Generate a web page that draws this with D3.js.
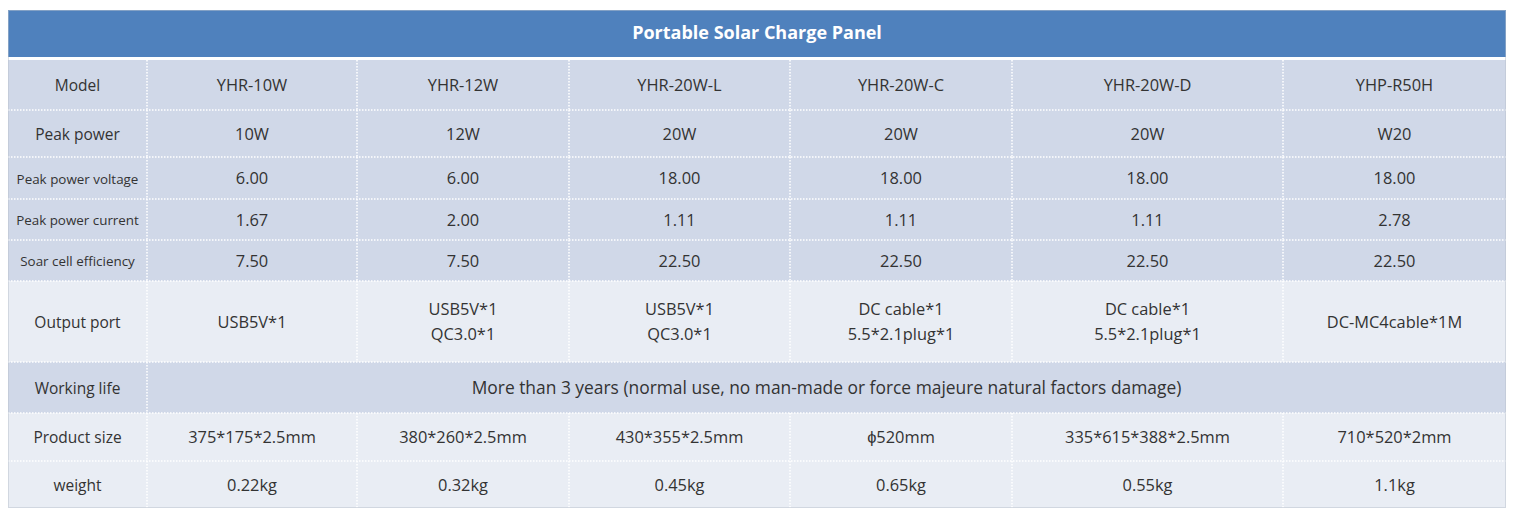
<!DOCTYPE html>
<html><head><meta charset="utf-8">
<script src="https://cdn.jsdelivr.net/npm/d3@7"></script>
<style>
html,body{margin:0;padding:0;background:#fff;}
svg{display:block;font-family:"Open Sans",sans-serif;}
</style></head><body>
<svg id="chart" width="1514" height="521"></svg>
<script>
const title = "Portable Solar Charge Panel";
const rowLabels = ["Model","Peak power","Peak power voltage","Peak power current","Soar cell efficiency","Output port","Working life","Product size","weight"];
const models = ["YHR-10W","YHR-12W","YHR-20W-L","YHR-20W-C","YHR-20W-D","YHP-R50H"];
const peakPower = ["10W","12W","20W","20W","20W","W20"];
const voltage = ["6.00","6.00","18.00","18.00","18.00","18.00"];
const current = ["1.67","2.00","1.11","1.11","1.11","2.78"];
const efficiency = ["7.50","7.50","22.50","22.50","22.50","22.50"];
const outputPort = [["USB5V*1"],["USB5V*1","QC3.0*1"],["USB5V*1","QC3.0*1"],["DC cable*1","5.5*2.1plug*1"],["DC cable*1","5.5*2.1plug*1"],["DC-MC4cable*1M"]];
const workingLife = "More than 3 years (normal use, no man-made or force majeure natural factors damage)";
const productSize = ["375*175*2.5mm","380*260*2.5mm","430*355*2.5mm","ϕ520mm","335*615*388*2.5mm","710*520*2mm"];
const weight = ["0.22kg","0.32kg","0.45kg","0.65kg","0.55kg","1.1kg"];

// layout
const colEdges = [8,147,357,569,790,1012,1283,1506];
const rowEdges = [60,110,157,199,240,281,362,413,461,508];
const titleTop = 10, titleBottom = 57;
const dark = "#d0d8e8", light = "#e9edf4";
const rowFill = [dark,dark,dark,dark,dark,light,dark,light,light];
const labelSize = [15.5,15.5,13.4,13.4,13.4,15.5,15.5,15.5,15.5];
const valueSize = 16.4, lifeSize = 17.4, dy = 2;

const svg = d3.select("#chart");
const x = i => colEdges[i];
const y = i => rowEdges[i];

svg.append("rect").attr("x",colEdges[0]).attr("y",titleTop).attr("width",colEdges[7]-colEdges[0]).attr("height",titleBottom-titleTop).attr("fill","#4f81bd");
svg.append("text").attr("x",(colEdges[0]+colEdges[7])/2).attr("y",(titleTop+titleBottom)/2+1)
  .attr("text-anchor","middle").attr("dominant-baseline","middle")
  .attr("fill","#fff").attr("font-weight","bold").attr("font-size",18).text(title);

const rows = [models, peakPower, voltage, current, efficiency, outputPort, null, productSize, weight];

rows.forEach((vals, r) => {
  const y0 = y(r), y1 = y(r+1);
  svg.append("rect").attr("x",colEdges[0]).attr("y",y0).attr("width",colEdges[7]-colEdges[0]).attr("height",y1-y0).attr("fill",rowFill[r]);
  const cy = (y0+y1)/2 + dy;
  svg.append("text").attr("x",(x(0)+x(1))/2).attr("y",cy).attr("text-anchor","middle").attr("dominant-baseline","middle")
    .attr("fill","#333").attr("font-size",labelSize[r]).text(rowLabels[r]);
  if (vals === null) {
    svg.append("text").attr("x",(x(1)+x(7))/2).attr("y",cy).attr("text-anchor","middle").attr("dominant-baseline","middle")
      .attr("fill","#333").attr("font-size",lifeSize).text(workingLife);
    return;
  }
  vals.forEach((v, c) => {
    const cx = (x(c+1)+x(c+2))/2;
    const lines = Array.isArray(v) ? v : [v];
    lines.forEach((ln, k) => {
      svg.append("text").attr("x",cx).attr("y",cy + (k-(lines.length-1)/2)*25)
        .attr("text-anchor","middle").attr("dominant-baseline","middle")
        .attr("fill","#333").attr("font-size",valueSize).text(ln);
    });
  });
});

const g = svg.append("g").attr("stroke","#fff").attr("stroke-width",1.5).attr("stroke-dasharray","1.5,1.5");
rowEdges.slice(1,-1).forEach(yy => g.append("line").attr("x1",colEdges[0]).attr("x2",colEdges[7]).attr("y1",yy).attr("y2",yy));
colEdges.slice(1,-1).forEach(xx => {
  for (let r = 0; r < rows.length; r++) {
    if (rows[r] === null && xx !== colEdges[1]) continue;
    g.append("line").attr("x1",xx).attr("x2",xx).attr("y1",y(r)).attr("y2",y(r+1));
  }
});
svg.append("line").attr("x1",colEdges[0]).attr("x2",colEdges[7]).attr("y1",58.5).attr("y2",58.5)
  .attr("stroke","#fff").attr("stroke-width",3).attr("stroke-dasharray","2,2");
svg.append("rect").attr("x",colEdges[0]+0.5).attr("y",titleTop+0.5).attr("width",colEdges[7]-colEdges[0]-1).attr("height",rowEdges[9]-titleTop-1)
  .attr("fill","none").attr("stroke","#b8c0cc").attr("stroke-width",1).attr("stroke-dasharray","1,1");
</script>
</body></html>
